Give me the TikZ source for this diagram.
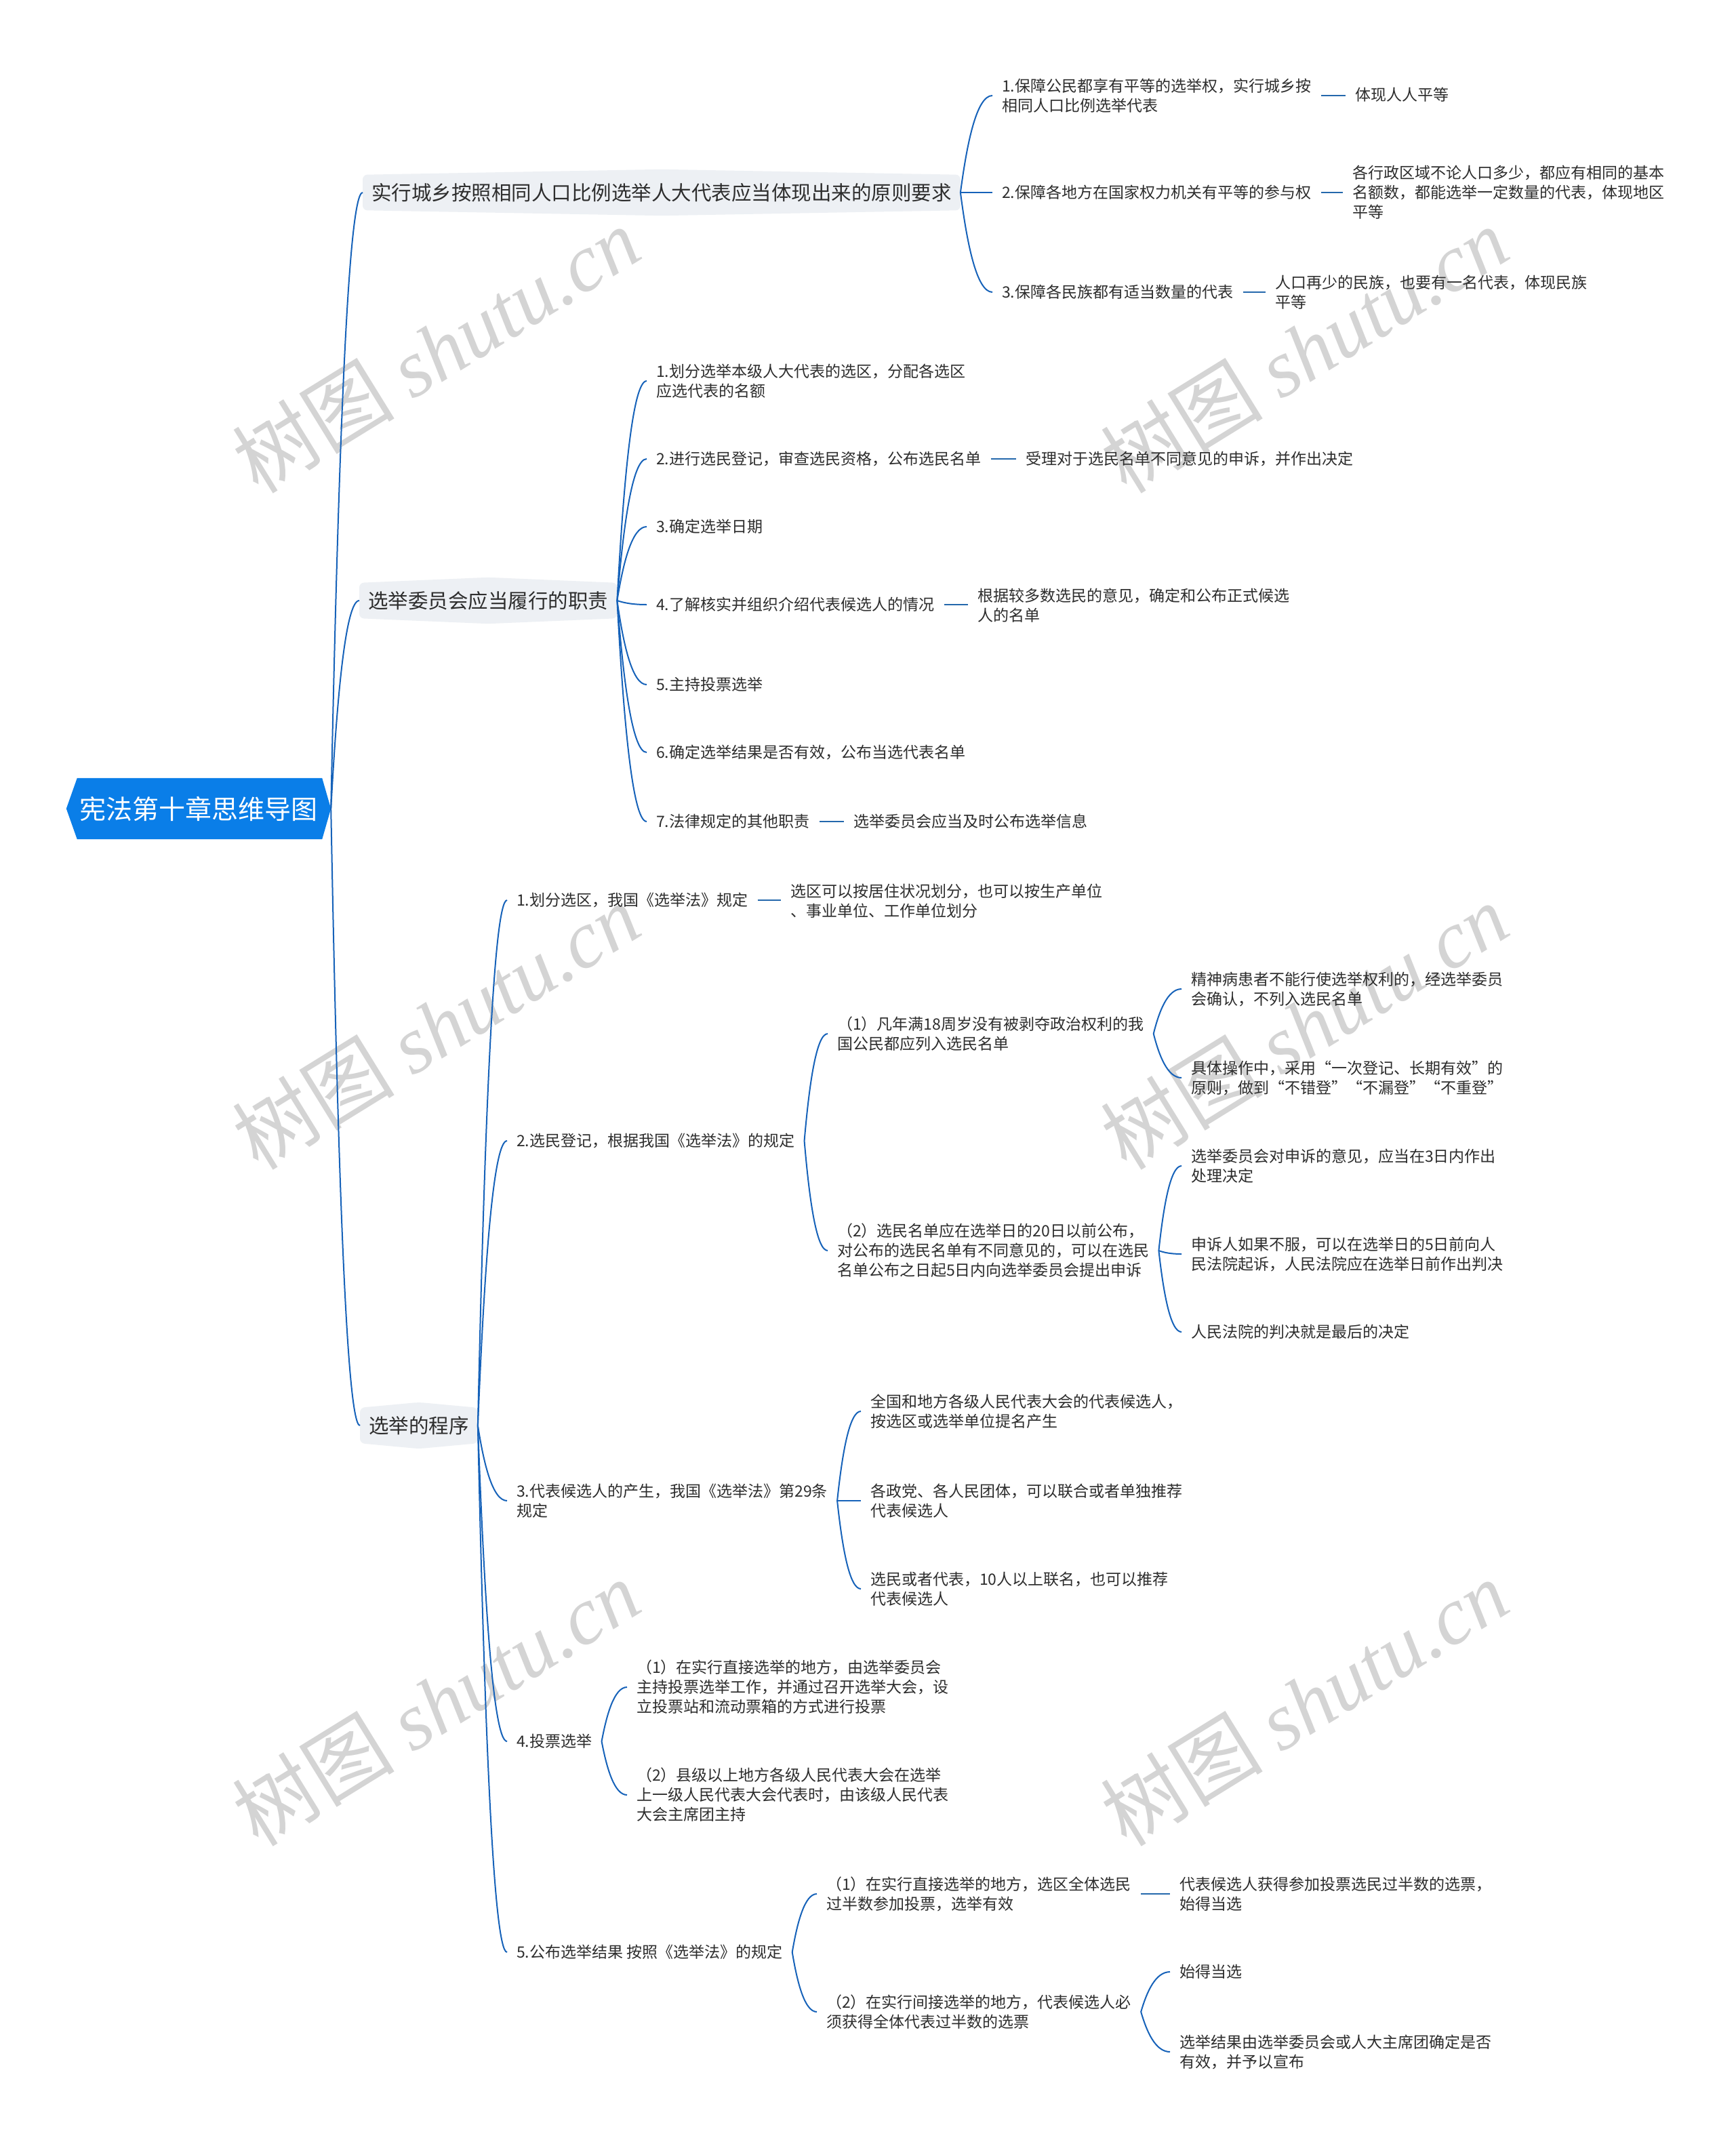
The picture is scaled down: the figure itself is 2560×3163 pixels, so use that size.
\documentclass[tikz,border=0pt]{standalone}
\usepackage{fontspec}
\newfontfamily\cjk{Noto Sans CJK SC}
\newfontfamily\wmserif{Liberation Serif}
\usetikzlibrary{calc,backgrounds}
\definecolor{conncol}{RGB}{22,98,185}
\definecolor{dashcol}{RGB}{36,104,172}
\definecolor{lonefill}{RGB}{237,240,244}
\definecolor{rootfill}{RGB}{10,126,232}
\definecolor{txt}{RGB}{45,45,45}
\definecolor{wmcol}{RGB}{212,212,212}
\newcommand\curv[2]{\draw[conn] let \p1=(#1), \p2=(#2) in (\p1) .. controls ({\x1+0.2*(\x2-\x1)},{\y1+0.5*(\y2-\y1)}) and ({\x1+0.5*(\x2-\x1)},{\y2}) .. (\p2);}
\newcommand\straight[2]{\draw[dashline] (#1.east) -- (#1.east -| #2.west);}
\newcommand\lbox[1]{\fill[lonefill, rounded corners=7pt] (#1.north west) -- ($(#1.north)+(0,-8)$) -- (#1.north east) -- (#1.south east) -- ($(#1.south)+(0,8)$) -- (#1.south west) -- cycle;}
\begin{document}
\begin{tikzpicture}[x=1pt,y=-1pt,
 leaf/.style={anchor=west, inner xsep=14pt, inner ysep=2pt, align=left, text=txt, font=\cjk\fontsize{23}{29}\selectfont},
 lone/.style={anchor=west, inner xsep=13pt, inner ysep=0pt, minimum height=52pt, text=txt, font=\cjk\fontsize{29.5}{36}\selectfont},
 conn/.style={draw=conncol, line width=2pt},
 dashline/.style={draw=dashcol, line width=2.6pt},
 wm/.style={text=wmcol, font=\fontsize{120}{120}\selectfont, rotate=31.7, inner sep=0pt}]
\useasboundingbox (0,0) rectangle (2560,3163);

% root
\node[text=white, font=\cjk\fontsize{39}{45}\selectfont, minimum width=390pt, minimum height=90pt, inner sep=0pt] (root) at (293,1193) {宪法第十章思维导图};

% level 1
\node[lone] (A) at (535,284) {实行城乡按照相同人口比例选举人大代表应当体现出来的原则要求};
\node[lone] (B) at (530,886) {选举委员会应当履行的职责};
\node[lone] (C) at (531,2103) {选举的程序};

% A branch
\node[leaf] (A1) at (1464,141) {1.保障公民都享有平等的选举权，实行城乡按\\相同人口比例选举代表};
\node[leaf] (A1c) at (1985,140) {体现人人平等};
\node[leaf] (A2) at (1464,284) {2.保障各地方在国家权力机关有平等的参与权};
\node[leaf] (A2c) at (1981,284) {各行政区域不论人口多少，都应有相同的基本\\名额数，都能选举一定数量的代表，体现地区\\平等};
\node[leaf] (A3) at (1464,431) {3.保障各民族都有适当数量的代表};
\node[leaf] (A3c) at (1867,431) {人口再少的民族，也要有一名代表，体现民族\\平等};

% B branch
\node[leaf] (B1) at (954,562) {1.划分选举本级人大代表的选区，分配各选区\\应选代表的名额};
\node[leaf] (B2) at (954,677) {2.进行选民登记，审查选民资格，公布选民名单};
\node[leaf] (B2c) at (1499,677) {受理对于选民名单不同意见的申诉，并作出决定};
\node[leaf] (B3) at (954,777) {3.确定选举日期};
\node[leaf] (B4) at (954,892) {4.了解核实并组织介绍代表候选人的情况};
\node[leaf] (B4c) at (1428,893) {根据较多数选民的意见，确定和公布正式候选\\人的名单};
\node[leaf] (B5) at (954,1010) {5.主持投票选举};
\node[leaf] (B6) at (954,1110) {6.确定选举结果是否有效，公布当选代表名单};
\node[leaf] (B7) at (954,1212) {7.法律规定的其他职责};
\node[leaf] (B7c) at (1245,1212) {选举委员会应当及时公布选举信息};

% C branch
\node[leaf] (C1) at (748,1328) {1.划分选区，我国《选举法》规定};
\node[leaf] (C1c) at (1152,1329) {选区可以按居住状况划分，也可以按生产单位\\、事业单位、工作单位划分};
\node[leaf] (C2) at (748,1683) {2.选民登记，根据我国《选举法》的规定};
\node[leaf] (C2a) at (1221,1525) {（1）凡年满18周岁没有被剥夺政治权利的我\\国公民都应列入选民名单};
\node[leaf] (C2a1) at (1743,1459) {精神病患者不能行使选举权利的，经选举委员\\会确认，不列入选民名单};
\node[leaf] (C2a2) at (1743,1590) {具体操作中，采用“一次登记、长期有效”的\\原则，做到“不错登”“不漏登”“不重登”};
\node[leaf] (C2b) at (1221,1845) {（2）选民名单应在选举日的20日以前公布，\\对公布的选民名单有不同意见的，可以在选民\\名单公布之日起5日内向选举委员会提出申诉};
\node[leaf] (C2b1) at (1743,1720) {选举委员会对申诉的意见，应当在3日内作出\\处理决定};
\node[leaf] (C2b2) at (1743,1850) {申诉人如果不服，可以在选举日的5日前向人\\民法院起诉，人民法院应在选举日前作出判决};
\node[leaf] (C2b3) at (1743,1965) {人民法院的判决就是最后的决定};
\node[leaf] (C3) at (748,2214) {3.代表候选人的产生，我国《选举法》第29条\\规定};
\node[leaf] (C3a) at (1270,2082) {全国和地方各级人民代表大会的代表候选人，\\按选区或选举单位提名产生};
\node[leaf] (C3b) at (1270,2214) {各政党、各人民团体，可以联合或者单独推荐\\代表候选人};
\node[leaf] (C3c) at (1270,2344) {选民或者代表，10人以上联名，也可以推荐\\代表候选人};
\node[leaf] (C4) at (748,2569) {4.投票选举};
\node[leaf] (C4a) at (925,2489) {（1）在实行直接选举的地方，由选举委员会\\主持投票选举工作，并通过召开选举大会，设\\立投票站和流动票箱的方式进行投票};
\node[leaf] (C4b) at (925,2648) {（2）县级以上地方各级人民代表大会在选举\\上一级人民代表大会代表时，由该级人民代表\\大会主席团主持};
\node[leaf] (C5) at (748,2880) {5.公布选举结果 按照《选举法》的规定};
\node[leaf] (C5a) at (1205,2794) {（1）在实行直接选举的地方，选区全体选民\\过半数参加投票，选举有效};
\node[leaf] (C5a1) at (1726,2794) {代表候选人获得参加投票选民过半数的选票，\\始得当选};
\node[leaf] (C5b) at (1205,2968) {（2）在实行间接选举的地方，代表候选人必\\须获得全体代表过半数的选票};
\node[leaf] (C5b1) at (1726,2909) {始得当选};
\node[leaf] (C5b2) at (1726,3027) {选举结果由选举委员会或人大主席团确定是否\\有效，并予以宣布};

% background
\begin{scope}[on background layer]
\fill[white] (0,0) rectangle (2560,3163);
\node[wm] (w1) at (643,516) {\cjk 树图 \wmserif\itshape shutu.cn};
\node[wm] (w2) at (1924,516) {\cjk 树图 \wmserif\itshape shutu.cn};
\node[wm] (w3) at (643,1514) {\cjk 树图 \wmserif\itshape shutu.cn};
\node[wm] (w4) at (1924,1514) {\cjk 树图 \wmserif\itshape shutu.cn};
\node[wm] (w5) at (643,2512) {\cjk 树图 \wmserif\itshape shutu.cn};
\node[wm] (w6) at (1924,2512) {\cjk 树图 \wmserif\itshape shutu.cn};
\fill[rootfill] (root.west) -- ($(root.north west)+(16,0)$) -- ($(root.north east)+(-13,0)$) -- (root.east) -- ($(root.south east)+(-13,0)$) -- ($(root.south west)+(16,0)$) -- cycle;
\lbox{A}
\lbox{B}
\lbox{C}
\end{scope}

% connectors
\curv{root.east}{A.west}
\curv{root.east}{B.west}
\curv{root.east}{C.west}
\curv{A.east}{A1.west}
\curv{A.east}{A2.west}
\curv{A.east}{A3.west}
\straight{A1}{A1c}
\straight{A2}{A2c}
\straight{A3}{A3c}
\curv{B.east}{B1.west}
\curv{B.east}{B2.west}
\curv{B.east}{B3.west}
\curv{B.east}{B4.west}
\curv{B.east}{B5.west}
\curv{B.east}{B6.west}
\curv{B.east}{B7.west}
\straight{B2}{B2c}
\straight{B4}{B4c}
\straight{B7}{B7c}
\curv{C.east}{C1.west}
\curv{C.east}{C2.west}
\curv{C.east}{C3.west}
\curv{C.east}{C4.west}
\curv{C.east}{C5.west}
\straight{C1}{C1c}
\curv{C2.east}{C2a.west}
\curv{C2.east}{C2b.west}
\curv{C2a.east}{C2a1.west}
\curv{C2a.east}{C2a2.west}
\curv{C2b.east}{C2b1.west}
\curv{C2b.east}{C2b2.west}
\curv{C2b.east}{C2b3.west}
\curv{C3.east}{C3a.west}
\curv{C3.east}{C3b.west}
\curv{C3.east}{C3c.west}
\curv{C4.east}{C4a.west}
\curv{C4.east}{C4b.west}
\curv{C5.east}{C5a.west}
\curv{C5.east}{C5b.west}
\straight{C5a}{C5a1}
\curv{C5b.east}{C5b1.west}
\curv{C5b.east}{C5b2.west}
\end{tikzpicture}
\end{document}
